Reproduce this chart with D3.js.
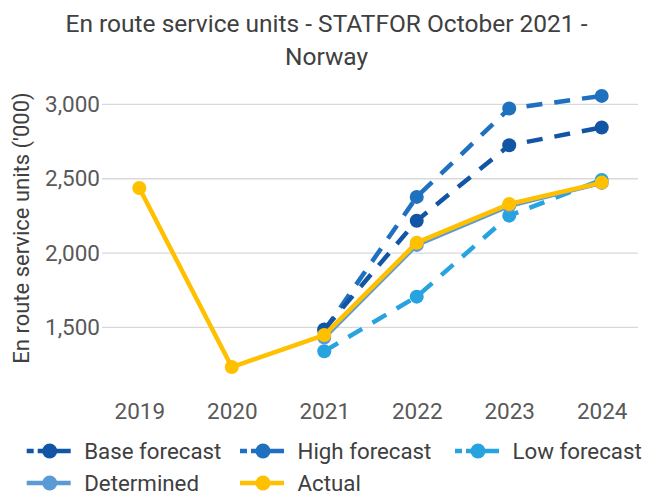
<!DOCTYPE html>
<html><head><meta charset="utf-8">
<script src="https://cdn.jsdelivr.net/npm/d3@7"></script>
<style>body{margin:0;background:#fff}svg{display:block;font-family:Roboto,sans-serif}</style>
</head><body><svg id="c" width="647" height="495"></svg>
<script>
const years = ["2019","2020","2021","2022","2023","2024"];
const yTicks = [1500, 2000, 2500, 3000];
const baseForecast = [null, null, 1487, 2218, 2725, 2845];
const highForecast = [null, null, 1478, 2378, 2972, 3057];
const lowForecast  = [null, null, 1340, 1707, 2252, 2492];
const determined   = [null, null, 1432, 2055, 2318, 2472];
const actual       = [2438, 1234, 1449, 2070, 2330, 2474];
const seriesNames  = ["Base forecast","High forecast","Low forecast","Determined","Actual"];
const seriesColors = ["#1355a5","#1f70bf","#27a3df","#5b9bd5","#ffc000"];
const seriesDashed = [true, true, true, false, false];
const seriesData   = [baseForecast, highForecast, lowForecast, determined, actual];

const svg = d3.select("#c");
const x = d3.scalePoint().domain(years).range([139.3, 601.7]);
const y = d3.scaleLinear().domain([1000, 3000]).range([401.8, 104.4]);

svg.append("text").attr("x", 326.5).attr("y", 31.7).attr("text-anchor","middle")
  .attr("font-size", 24.5).attr("fill","#404040").text("En route service units - STATFOR October 2021 -");
svg.append("text").attr("x", 326.5).attr("y", 64.5).attr("text-anchor","middle")
  .attr("font-size", 24.5).attr("fill","#404040").text("Norway");

svg.append("g").selectAll("line").data(yTicks).join("line")
  .attr("x1",102).attr("x2",638).attr("y1",d=>y(d)).attr("y2",d=>y(d))
  .attr("stroke","#d9d9d9").attr("stroke-width",1.3);
const ya = svg.append("g").attr("transform","translate(102,0)")
  .call(d3.axisLeft(y).tickValues(yTicks).tickSize(0).tickPadding(2).tickFormat(d3.format(",")));
ya.select(".domain").remove();
ya.selectAll("text").attr("font-size",22.5).attr("fill","#595959").attr("font-family","Roboto");

const xa = svg.append("g").attr("transform","translate(0,393)")
  .call(d3.axisBottom(x).tickSize(0).tickPadding(10));
xa.select(".domain").remove();
xa.selectAll("text").attr("font-size",22.5).attr("fill","#595959").attr("font-family","Roboto");

svg.append("text").attr("transform","translate(29,228) rotate(-90)").attr("text-anchor","middle")
  .attr("font-size",22).attr("fill","#404040").text("En route service units ('000)");

const line = d3.line().defined(d=>d.v!=null).x(d=>x(d.year)).y(d=>y(d.v));
const order = [2,1,0,3,4];
order.forEach(i=>{
  const pts = years.map((yr,k)=>({year:yr, v:seriesData[i][k]}));
  const g = svg.append("g");
  g.append("path").datum(pts).attr("d",line).attr("fill","none")
    .attr("stroke",seriesColors[i]).attr("stroke-width",4.5).attr("stroke-linejoin","round")
    .attr("stroke-dasharray", seriesDashed[i] ? "16,12" : null);
  g.selectAll("circle").data(pts.filter(d=>d.v!=null)).join("circle")
    .attr("cx",d=>x(d.year)).attr("cy",d=>y(d.v)).attr("r",7).attr("fill",seriesColors[i]);
});

const legPos = [[26.7,451],[240,451],[455,451],[26.7,483],[240,483]];
seriesNames.forEach((n,i)=>{
  const [lx,ly] = legPos[i];
  const g = svg.append("g").attr("transform",`translate(${lx},${ly})`);
  g.append("line").attr("x1",0).attr("x2",44).attr("y1",0).attr("y2",0)
    .attr("stroke",seriesColors[i]).attr("stroke-width",4.5)
    .attr("stroke-dasharray", seriesDashed[i] ? "7,4,40" : null);
  g.append("circle").attr("cx",23).attr("cy",0).attr("r",7.5).attr("fill",seriesColors[i]);
  g.append("text").attr("x",57.5).attr("y",8).attr("font-size",22.3).attr("fill","#404040").text(n);
});
</script></body></html>
